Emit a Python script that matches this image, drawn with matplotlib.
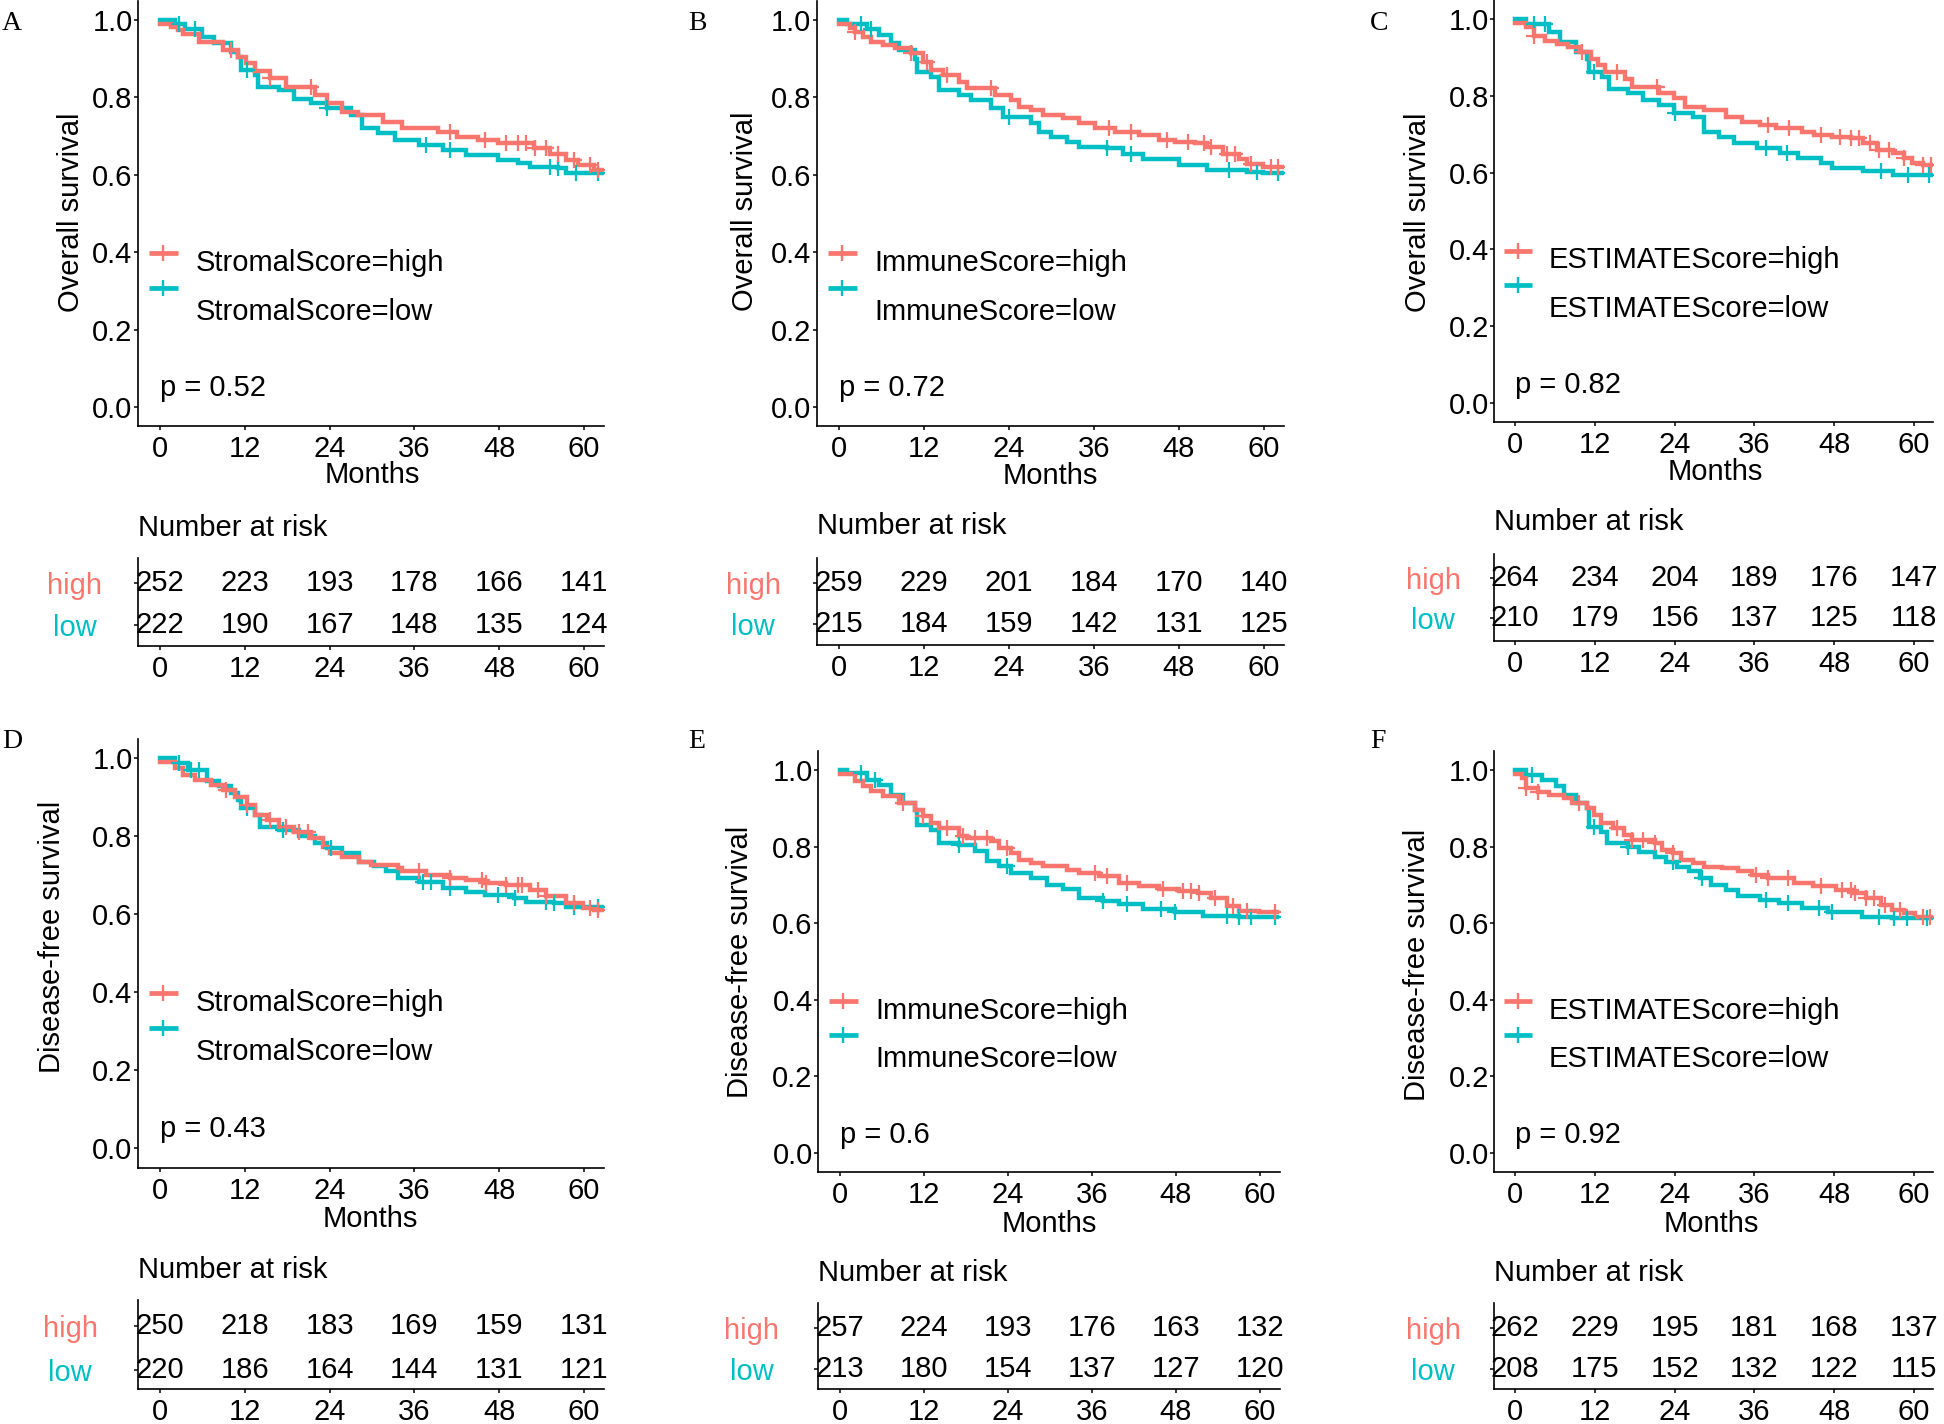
import numpy as np
import matplotlib
matplotlib.use('Agg')
import matplotlib.pyplot as plt

plt.rcParams['font.family'] = ['Liberation Sans', 'DejaVu Sans']

W, H = 1944, 1424
RED = '#F8766D'
CYAN = '#00BFC4'
FS = 21

month_ticks = [0, 12, 24, 36, 48, 60]
surv_ticks = [0.0, 0.2, 0.4, 0.6, 0.8, 1.0]

# ---------------- Panel A (Overall survival, StromalScore) ----------------
a_high_time = [0, 1.5, 2.5, 3.2, 5.5, 8.9, 11.0, 12.2, 13.4, 15.6, 17.9, 21.9, 23.6, 25.8, 28.0, 31.5,
               34.3, 39.4, 42.0, 45.0, 47.8, 52.9, 55.2, 57.5, 59.2, 61.4, 62.8]
a_high_surv = [0.99, 0.982, 0.974, 0.965, 0.944, 0.923, 0.905, 0.89, 0.867, 0.85, 0.826, 0.806, 0.785, 0.763,
               0.754, 0.737, 0.722, 0.71, 0.698, 0.69, 0.681, 0.668, 0.654, 0.638, 0.625, 0.612, 0.612]
a_high_cens = [10.0, 15.6, 21.3, 41.0, 46.0, 49.0, 50.7, 51.8, 53.0, 54.6, 56.3, 58.6, 60.8, 62.0]
a_low_time = [0, 2.1, 3.5, 6.0, 7.7, 10.0, 11.1, 11.4, 13.4, 13.9, 16.8, 19.0, 21.3, 23.6, 27.0, 28.6,
              30.9, 33.2, 36.6, 40.0, 43.3, 47.9, 50.7, 52.4, 56.3, 57.5, 62.8]
a_low_surv = [1.0, 0.99, 0.978, 0.957, 0.94, 0.918, 0.905, 0.87, 0.858, 0.826, 0.819, 0.797, 0.785, 0.772,
              0.754, 0.72, 0.707, 0.69, 0.677, 0.664, 0.651, 0.638, 0.63, 0.62, 0.617, 0.604, 0.604]
a_low_cens = [2.7, 4.9, 12.3, 23.6, 37.7, 41.0, 55.2, 56.3, 58.9, 62.0]
a_risk_high = [252, 223, 193, 178, 166, 141]
a_risk_low = [222, 190, 167, 148, 135, 124]

# ---------------- Panel B (Overall survival, ImmuneScore) ----------------
b_high_time = [0, 1.5, 2.3, 3.4, 4.5, 6.2, 7.9, 10.2, 11.9, 13.0, 14.7, 16.9, 18.1, 22.0, 24.3, 25.4, 27.1,
               28.8, 31.6, 33.9, 36.2, 39.0, 42.4, 45.2, 47.5, 50.3, 52.0, 54.2, 56.5, 57.6, 59.9, 62.7]
b_high_surv = [0.99, 0.98, 0.97, 0.957, 0.944, 0.935, 0.927, 0.914, 0.892, 0.87, 0.858, 0.84, 0.823, 0.806,
               0.793, 0.776, 0.767, 0.754, 0.746, 0.733, 0.72, 0.711, 0.703, 0.69, 0.686, 0.681, 0.672, 0.655,
               0.642, 0.629, 0.62, 0.62]
b_high_cens = [2.3, 10.2, 12.4, 15.3, 21.5, 38.1, 41.2, 46.3, 49.2, 51.5, 52.5, 54.8, 55.9, 58.2, 61.0, 62.0]
b_low_time = [0, 1.1, 4.0, 5.6, 7.3, 8.5, 10.7, 11.0, 13.0, 14.1, 16.9, 18.6, 21.5, 23.2, 27.1, 28.2, 29.9,
              32.2, 33.9, 37.9, 40.1, 42.9, 48.0, 52.0, 57.6, 59.9, 62.7]
b_low_surv = [1.0, 0.99, 0.978, 0.961, 0.94, 0.922, 0.90, 0.866, 0.853, 0.819, 0.806, 0.793, 0.772, 0.75,
              0.733, 0.711, 0.698, 0.686, 0.672, 0.668, 0.655, 0.642, 0.625, 0.612, 0.608, 0.604, 0.604]
b_low_cens = [3.1, 4.5, 24.0, 37.9, 41.2, 55.1, 59.0, 62.0]
b_risk_high = [259, 229, 201, 184, 170, 140]
b_risk_low = [215, 184, 159, 142, 131, 125]

# ---------------- Panel C (Overall survival, ESTIMATEScore) ----------------
c_high_time = [0, 1.7, 2.8, 4.5, 6.3, 8.0, 9.7, 11.4, 12.5, 13.6, 16.5, 17.6, 21.6, 23.9, 25.6, 28.4, 31.8,
               34.1, 36.9, 39.2, 43.2, 44.9, 47.7, 50.6, 52.3, 54.5, 56.8, 58.5, 59.7, 61.4, 62.8]
c_high_surv = [0.99, 0.978, 0.957, 0.944, 0.935, 0.927, 0.914, 0.896, 0.879, 0.862, 0.845, 0.823, 0.806,
               0.793, 0.771, 0.762, 0.745, 0.732, 0.723, 0.715, 0.706, 0.698, 0.693, 0.689, 0.676, 0.659,
               0.65, 0.637, 0.624, 0.62, 0.62]
c_high_cens = [2.8, 10.0, 15.3, 21.3, 38.0, 41.2, 46.0, 48.9, 50.6, 51.7, 53.4, 54.8, 56.3, 58.5, 61.4, 62.5]
c_low_time = [0, 1.7, 5.1, 6.8, 9.1, 10.8, 11.1, 13.1, 14.2, 17.0, 19.3, 21.6, 23.9, 26.7, 28.4, 30.7,
              33.0, 36.4, 39.8, 42.6, 46.0, 47.7, 52.3, 56.8, 62.8]
c_low_surv = [1.0, 0.987, 0.965, 0.94, 0.914, 0.896, 0.862, 0.849, 0.819, 0.806, 0.788, 0.775, 0.754, 0.745,
              0.706, 0.693, 0.676, 0.663, 0.65, 0.637, 0.624, 0.611, 0.603, 0.594, 0.594]
c_low_cens = [2.8, 4.5, 11.9, 24.1, 37.8, 40.9, 55.1, 59.1, 62.2]
c_risk_high = [264, 234, 204, 189, 176, 147]
c_risk_low = [210, 179, 156, 137, 125, 118]

# ---------------- Panel D (Disease-free survival, StromalScore) ----------------
d_high_time = [0, 2.1, 3.2, 4.9, 7.2, 8.9, 10.6, 12.3, 13.4, 15.1, 16.8, 19.0, 21.3, 23.0, 24.1, 25.8, 28.1,
               29.8, 33.7, 34.3, 37.7, 41.0, 43.3, 46.0, 49.0, 52.4, 54.6, 57.5, 59.8, 61.4, 62.8]
d_high_surv = [0.99, 0.974, 0.957, 0.944, 0.931, 0.919, 0.901, 0.88, 0.854, 0.841, 0.824, 0.811, 0.794,
               0.773, 0.756, 0.747, 0.734, 0.726, 0.717, 0.709, 0.70, 0.692, 0.687, 0.679, 0.674, 0.662,
               0.645, 0.627, 0.615, 0.609, 0.609]
d_high_cens = [9.4, 12.3, 15.6, 17.9, 19.6, 21.0, 36.6, 41.0, 45.6, 46.1, 49.0, 50.7, 51.2, 53.5, 54.6,
               58.6, 60.9, 62.0]
d_low_time = [0, 2.1, 4.0, 6.6, 8.3, 10.0, 11.1, 11.4, 13.4, 14.2, 16.8, 19.6, 21.9, 23.6, 25.8, 28.1, 30.3,
              32.0, 33.7, 36.6, 40.0, 43.3, 46.0, 50.1, 51.8, 55.8, 57.5, 62.8]
d_low_surv = [1.0, 0.987, 0.97, 0.94, 0.927, 0.91, 0.893, 0.872, 0.854, 0.824, 0.816, 0.799, 0.781, 0.769,
              0.756, 0.734, 0.722, 0.709, 0.692, 0.683, 0.666, 0.657, 0.649, 0.64, 0.632, 0.627, 0.619, 0.619]
d_low_cens = [2.7, 4.4, 5.5, 12.3, 17.4, 24.2, 37.2, 38.3, 41.0, 47.9, 50.2, 54.6, 55.8, 58.6, 62.0]
d_risk_high = [250, 218, 183, 169, 159, 131]
d_risk_low = [220, 186, 164, 144, 131, 121]

# ---------------- Panel E (Disease-free survival, ImmuneScore) ----------------
e_high_time = [0, 2.1, 3.3, 4.4, 6.1, 8.4, 10.7, 11.8, 13.0, 14.1, 17.0, 18.1, 21.5, 22.7, 24.4, 25.5, 27.3,
               29.0, 32.4, 34.1, 37.0, 39.8, 42.7, 45.5, 48.4, 51.2, 53.0, 55.3, 57.0, 59.8, 62.4]
e_high_surv = [0.99, 0.97, 0.957, 0.944, 0.931, 0.913, 0.896, 0.879, 0.861, 0.848, 0.827, 0.823, 0.814,
               0.797, 0.784, 0.766, 0.758, 0.749, 0.74, 0.732, 0.723, 0.706, 0.697, 0.688, 0.684, 0.68,
               0.667, 0.645, 0.632, 0.628, 0.628]
e_high_cens = [9.0, 11.8, 15.3, 17.5, 19.3, 21.0, 23.8, 36.4, 38.1, 41.0, 46.1, 49.0, 50.1, 51.3, 53.6,
               56.1, 58.1, 62.1]
e_low_time = [0, 1.0, 3.8, 5.5, 7.3, 9.0, 10.7, 11.0, 13.0, 14.1, 17.0, 19.3, 21.0, 22.7, 24.4, 27.3, 29.5,
              31.8, 34.1, 37.5, 39.8, 43.3, 47.8, 51.8, 57.0, 62.4]
e_low_surv = [1.0, 0.991, 0.974, 0.961, 0.935, 0.913, 0.896, 0.857, 0.844, 0.81, 0.805, 0.788, 0.762, 0.749,
              0.732, 0.719, 0.701, 0.688, 0.667, 0.658, 0.65, 0.636, 0.628, 0.619, 0.615, 0.615]
e_low_cens = [3.0, 5.0, 17.0, 23.8, 37.5, 41.0, 45.8, 47.8, 55.3, 57.0, 58.7, 62.1]
e_risk_high = [257, 224, 193, 176, 163, 132]
e_risk_low = [213, 180, 154, 137, 127, 120]

# ---------------- Panel F (Disease-free survival, ESTIMATEScore) ----------------
f_high_time = [0, 1.1, 1.7, 3.4, 5.1, 7.4, 8.5, 10.8, 11.9, 13.0, 14.8, 16.4, 17.6, 21.0, 22.1, 23.8, 25.0,
               26.7, 28.4, 31.2, 33.5, 35.7, 38.0, 42.0, 44.8, 48.2, 51.0, 52.8, 55.0, 56.7, 58.5, 60.2, 62.8]
f_high_surv = [0.99, 0.978, 0.952, 0.943, 0.935, 0.926, 0.913, 0.90, 0.883, 0.861, 0.848, 0.83, 0.817,
               0.809, 0.791, 0.783, 0.765, 0.757, 0.748, 0.743, 0.735, 0.726, 0.717, 0.704, 0.696, 0.687,
               0.678, 0.665, 0.648, 0.635, 0.626, 0.617, 0.617]
f_high_cens = [1.7, 3.4, 9.6, 15.3, 17.6, 19.3, 21.0, 23.8, 36.3, 38.0, 41.1, 46.0, 49.1, 50.5, 51.1, 52.8,
               54.0, 55.6, 57.9, 61.3, 62.4]
f_low_time = [0, 1.7, 4.0, 6.2, 7.4, 9.1, 10.8, 11.1, 13.0, 13.9, 17.0, 18.7, 21.0, 22.7, 24.4, 26.1, 27.8,
              29.5, 31.8, 33.5, 36.9, 39.7, 43.1, 47.0, 52.2, 56.7, 62.8]
f_low_surv = [1.0, 0.987, 0.974, 0.957, 0.935, 0.913, 0.90, 0.852, 0.839, 0.809, 0.80, 0.787, 0.774, 0.761,
              0.748, 0.735, 0.717, 0.70, 0.687, 0.67, 0.661, 0.652, 0.639, 0.63, 0.617, 0.613, 0.613]
f_low_cens = [2.6, 11.9, 17.0, 23.8, 28.1, 37.7, 41.1, 45.7, 47.7, 54.8, 57.0, 59.0, 61.9]
f_risk_high = [262, 229, 195, 181, 168, 137]
f_risk_low = [208, 175, 152, 132, 122, 115]

letters = ['A', 'B', 'C', 'D', 'E', 'F']
y_titles = ['Overall survival'] * 3 + ['Disease-free survival'] * 3
score_names = ['StromalScore', 'ImmuneScore', 'ESTIMATEScore'] * 2
p_labels = ['p = 0.52', 'p = 0.72', 'p = 0.82', 'p = 0.43', 'p = 0.6', 'p = 0.92']

curves = [
    (a_high_time, a_high_surv, a_high_cens, a_low_time, a_low_surv, a_low_cens, a_risk_high, a_risk_low),
    (b_high_time, b_high_surv, b_high_cens, b_low_time, b_low_surv, b_low_cens, b_risk_high, b_risk_low),
    (c_high_time, c_high_surv, c_high_cens, c_low_time, c_low_surv, c_low_cens, c_risk_high, c_risk_low),
    (d_high_time, d_high_surv, d_high_cens, d_low_time, d_low_surv, d_low_cens, d_risk_high, d_risk_low),
    (e_high_time, e_high_surv, e_high_cens, e_low_time, e_low_surv, e_low_cens, e_risk_high, e_risk_low),
    (f_high_time, f_high_surv, f_high_cens, f_low_time, f_low_surv, f_low_cens, f_risk_high, f_risk_low),
]

# ---------------- layout (pixels) ----------------
XMIN, XMAX = -3.1, 62.8
layout = [
    dict(x0=160, x60=584, y1=20, y0=407, letter=(2, 23), ylab=(71, 212), months=(372, 475),
         title=528, high=583, low=625, tb=646, rowpad=42.5),
    dict(x0=839, x60=1264, y1=20, y0=407, letter=(688, 23), ylab=(745, 211), months=(1050, 476),
         title=526, high=583, low=624, tb=645, rowpad=43),
    dict(x0=1515, x60=1914, y1=19, y0=403, letter=(1370, 23), ylab=(1418, 212), months=(1715, 472),
         title=522, high=578, low=618, tb=641, rowpad=41),
    dict(x0=160, x60=584, y1=758, y0=1148, letter=(2, 742), ylab=(52, 937), months=(370, 1219),
         title=1270, high=1326, low=1370, tb=1389, rowpad=46),
    dict(x0=840, x60=1260, y1=770, y0=1153, letter=(688, 742), ylab=(740, 962), months=(1049, 1224),
         title=1273, high=1328, low=1369, tb=1389, rowpad=45),
    dict(x0=1515, x60=1914, y1=770, y0=1153, letter=(1370, 742), ylab=(1417, 965), months=(1711, 1224),
         title=1273, high=1328, low=1369, tb=1389, rowpad=41),
]

fig = plt.figure(figsize=(W / 100, H / 100), dpi=100)


def px_axes(left, top, right, bottom):
    return fig.add_axes([left / W, 1 - bottom / H, (right - left) / W, (bottom - top) / H])


def style_axes(ax):
    for s in ['top', 'right']:
        ax.spines[s].set_visible(False)
    for s in ['left', 'bottom']:
        ax.spines[s].set_linewidth(1.2)
        ax.spines[s].set_color('black')
    ax.tick_params(axis='both', length=3, width=1.1, color='black', labelsize=FS, labelcolor='black')
    ax.tick_params(axis='x', pad=3.5)
    ax.tick_params(axis='y', pad=1.0)
    ax.patch.set_alpha(0)


for i, L in enumerate(layout):
    ht, hs, hc, lt, ls_, lc, rh, rl = curves[i]
    ppm = (L['x60'] - L['x0']) / 60.0
    left = L['x0'] + XMIN * ppm
    right = L['x0'] + XMAX * ppm
    unit = L['y0'] - L['y1']
    top = L['y1'] - 0.05 * unit
    bot = L['y0'] + 0.05 * unit

    ax = px_axes(left, top, right, bot)
    ax.set_xlim(XMIN, XMAX)
    ax.set_ylim(-0.05, 1.05)
    style_axes(ax)
    ax.set_xticks(month_ticks)
    ax.set_yticks(surv_ticks)
    ax.set_yticklabels(['%.1f' % v for v in surv_ticks])

    for t, s, c, col in [(lt, ls_, lc, CYAN), (ht, hs, hc, RED)]:
        t = np.asarray(t, float)
        s = np.asarray(s, float)
        ax.step(t, s, where='post', color=col, lw=3.2, solid_joinstyle='miter', zorder=3)
        c = np.asarray(c, float)
        idx = np.searchsorted(t, c, side='right') - 1
        ax.plot(c, s[idx], ls='none', marker='+', ms=11, mew=1.6, color=col, zorder=4)

    def fx(v):
        return (v - XMIN) / (XMAX - XMIN)

    def fy(v):
        return (v + 0.05) / 1.1

    for key_y, txt_y, col, lab in [(0.397, 0.372, RED, score_names[i] + '=high'),
                                   (0.308, 0.245, CYAN, score_names[i] + '=low')]:
        ax.plot([fx(-1.6), fx(2.5)], [fy(key_y), fy(key_y)], color=col, lw=3.4,
                transform=ax.transAxes, clip_on=False, solid_capstyle='butt')
        ax.plot([fx(0.45)], [fy(key_y)], marker='+', ms=12, mew=1.7, color=col,
                transform=ax.transAxes, clip_on=False)
        ax.text(fx(5.0), fy(txt_y), lab, transform=ax.transAxes, ha='left', va='center', fontsize=FS)
    ax.text(fx(0.0), fy(0.048), p_labels[i], transform=ax.transAxes, ha='left', va='center', fontsize=FS)

    fig.text(L['ylab'][0] / W, 1 - L['ylab'][1] / H, y_titles[i], rotation=90, ha='center', va='center',
             fontsize=FS)
    fig.text(L['months'][0] / W, 1 - L['months'][1] / H, 'Months', ha='center', va='center', fontsize=FS)
    fig.text(L['letter'][0] / W, 1 - L['letter'][1] / H, letters[i], ha='left', va='center', fontsize=20,
             family=['Liberation Serif', 'DejaVu Serif'])

    # risk table
    u = L['low'] - L['high']
    ylo = 1 - (L['tb'] - L['low']) / u
    yhi = 2.6
    ttop = L['high'] - (yhi - 2) * u
    axt = px_axes(left, ttop, right, L['tb'])
    axt.set_xlim(XMIN, XMAX)
    axt.set_ylim(ylo, yhi)
    style_axes(axt)
    axt.set_xticks(month_ticks)
    axt.set_yticks([1, 2])
    axt.set_yticklabels(['low', 'high'])
    axt.tick_params(axis='y', pad=L['rowpad'])
    for lbl, col in zip(axt.get_yticklabels(), [CYAN, RED]):
        lbl.set_color(col)
        lbl.set_horizontalalignment('center')
    for m, nh, nl in zip(month_ticks, rh, rl):
        axt.text(m, 2, str(nh), ha='center', va='center', fontsize=FS)
        axt.text(m, 1, str(nl), ha='center', va='center', fontsize=FS)
    fig.text(left / W, 1 - L['title'] / H, 'Number at risk', ha='left', va='center', fontsize=FS)

fig.savefig('out.png', dpi=100, facecolor='white')
